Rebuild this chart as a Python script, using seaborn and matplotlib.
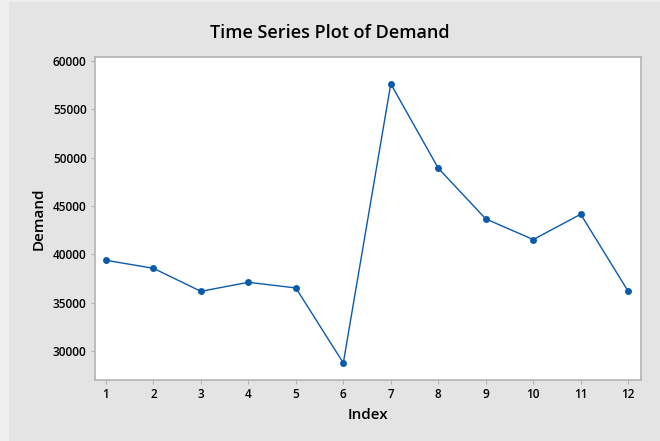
import matplotlib
matplotlib.use("Agg")
import matplotlib.pyplot as plt
import seaborn as sns
import pandas as pd
from matplotlib.patches import Rectangle

# Values
index = [1, 2, 3, 4, 5, 6, 7, 8, 9, 10, 11, 12]
demand = [39380, 38550, 36170, 37100, 36520, 28760, 57620, 48900, 43660, 41520, 44140, 36170]
y_ticks = [30000, 35000, 40000, 45000, 50000, 55000, 60000]

df = pd.DataFrame({"Index": index, "Demand": demand})

sns.set_theme(style="white")
plt.rcParams['font.family'] = ['Open Sans', 'DejaVu Sans']
plt.rcParams['text.color'] = 'black'
plt.rcParams['axes.labelcolor'] = 'black'
plt.rcParams['xtick.color'] = 'black'
plt.rcParams['ytick.color'] = 'black'

BG = "#e4e4e4"
SPINE = "#b4b4b4"
LINE = "#0a5aab"

fig = plt.figure(figsize=(6.6, 4.41), dpi=100, facecolor="#efefef")
# Minitab-style panel background with a thin light margin
fig.patches.append(Rectangle((9 / 660, 0), 1 - 9 / 660, 1 - 2 / 441,
                             transform=fig.transFigure, facecolor=BG,
                             edgecolor="none", zorder=-10))

ax = fig.add_axes([95 / 660, 1 - 380 / 441, 546 / 660, 323 / 441])
ax.set_facecolor("white")

sns.lineplot(data=df, x="Index", y="Demand", marker="o", color=LINE,
             linewidth=1.0, markersize=5, markeredgewidth=0, ax=ax)

ax.set_xlim(0.77, 12.27)
ax.set_ylim(27000, 60400)
ax.set_xticks(index)
ax.set_yticks(y_ticks)
ax.tick_params(axis="both", which="major", length=3, width=0.8, color=SPINE,
               labelsize=8.5, pad=3, bottom=True, left=True)
for lab in ax.get_xticklabels() + ax.get_yticklabels():
    lab.set_fontweight("semibold")

for side, sp in ax.spines.items():
    sp.set_color(SPINE)
    sp.set_linewidth(1.2)

ax.set_xlabel("Index", fontsize=11, fontweight="semibold", labelpad=5)
ax.set_ylabel("Demand", fontsize=11, fontweight="semibold", labelpad=5)

fig.text(0.5, 1 - 33 / 441, "Time Series Plot of Demand", ha="center", va="center",
         fontsize=13, fontweight="semibold")

fig.savefig("out.png", dpi=100, facecolor=fig.get_facecolor())
